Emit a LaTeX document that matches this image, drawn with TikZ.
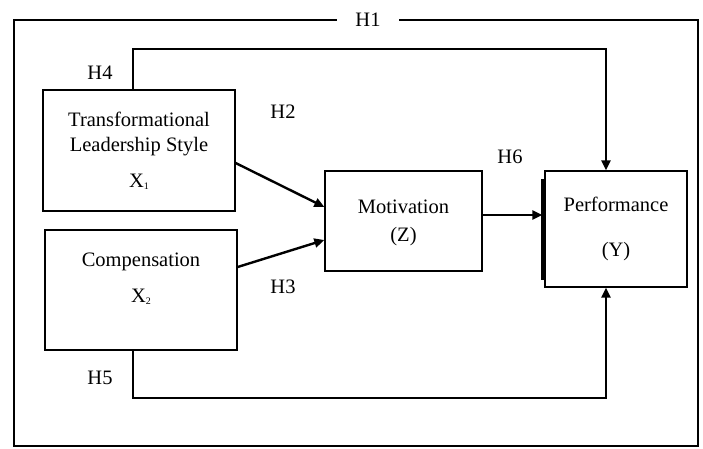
\documentclass[tikz,border=0pt]{standalone}
\usepackage{fontspec}
\setmainfont{Liberation Serif}
\usetikzlibrary{arrows.meta}
\newcommand{\idx}[1]{\raisebox{-2pt}{\fontsize{10}{10}\selectfont #1}}
\begin{document}
\begin{tikzpicture}[x=1pt,y=-1pt,font=\fontsize{20.5}{25}\selectfont,
box/.style={draw, line width=1.3pt, rectangle, align=center, inner sep=0pt},
link/.style={line width=2.4pt},
arr/.style={link, -{Triangle[length=10pt,width=9pt]}},
lbl/.style={inner sep=0pt}]
\useasboundingbox (0,0) rectangle (703,448);
\draw[line width=1.8pt] (14,20) rectangle (698,446);
\node[fill=white, inner xsep=18pt, inner ysep=2pt] (h1) at (368,20) {H1};
\node[box, minimum width=192pt, minimum height=121pt] (x1) at (139,150.5) {Transformational\\Leadership Style\\[11pt]X\idx{1}};
\node[box, minimum width=192pt, minimum height=120pt, text depth=25pt] (x2) at (141,290) {Compensation\\[11pt]X\idx{2}};
\node[box, minimum width=157pt, minimum height=100pt, text depth=0pt] (mot) at (403.5,221) {Motivation\\[3pt](Z)};
\node[box, minimum width=142pt, minimum height=116pt] (perf) at (616,229) {Performance\\[20pt](Y)};
\draw[line width=2.5pt] ([shift={(-2pt,-9pt)}]perf.north west) -- ([shift={(-2pt,8pt)}]perf.south west);
\node[lbl] (h4) at (100,73) {H4};
\node[lbl] (h2) at (283,112) {H2};
\node[lbl] (h6) at (510,157) {H6};
\node[lbl] (h3) at (283,287) {H3};
\node[lbl] (h5) at (100,378) {H5};
\coordinate (h4turn) at (133,49);
\coordinate (h4end) at (606,49);
\draw[arr] (x1.north -| h4turn) -- (h4turn) -- (h4end) -- (perf.north -| h4end);
\coordinate (h5turn) at (133,398);
\coordinate (h5end) at (606,398);
\draw[arr] (x2.south -| h5turn) -- (h5turn) -- (h5end) -- (perf.south -| h5end);
\draw[arr] ([yshift=-12.5pt]x1.east) -- ([yshift=14pt]mot.west);
\draw[arr] ([yshift=23pt]x2.east) -- ([yshift=-19pt]mot.west);
\coordinate (h6start) at ([yshift=6pt]mot.east);
\draw[arr] (h6start) -- ([xshift=-2pt]perf.west |- h6start);
\end{tikzpicture}
\end{document}
